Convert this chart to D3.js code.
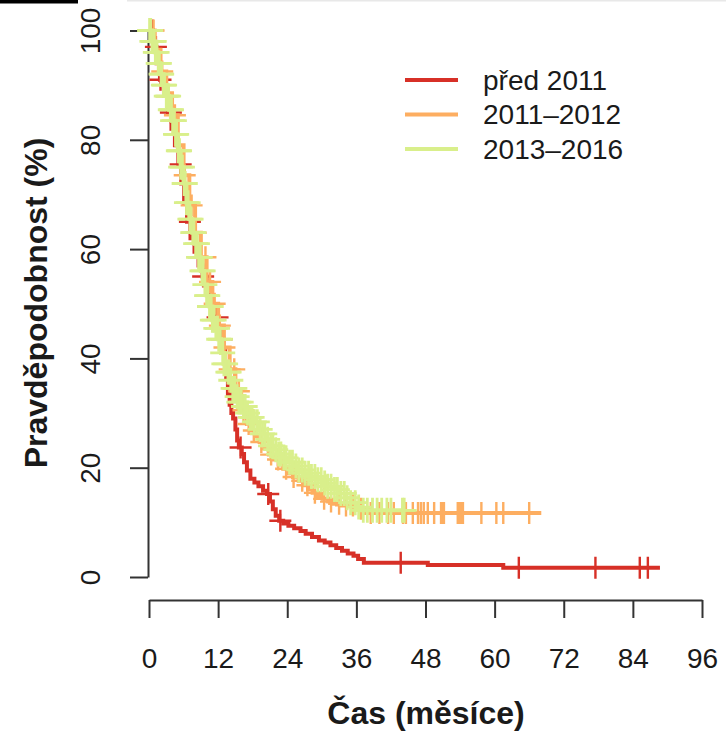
<!DOCTYPE html>
<html>
<head>
<meta charset="utf-8">
<script src="https://cdn.jsdelivr.net/npm/d3@7.9.0/dist/d3.min.js"></script>
<style>
  body { margin: 0; background: #fff; }
  svg { display: block; font-family: "Liberation Sans", Arial, sans-serif; }
</style>
</head>
<body>
<svg id="chart" width="726" height="731"></svg>
<script>
// groups and their colours
const groups = ["před 2011", "2011–2012", "2013–2016"];
const colors = ["#d73027", "#fdae61", "#d9ef8b"];

// Kaplan-Meier steps [months, survival %]
const stepsOld = [
  [0, 100], [0.7, 97], [1.3, 94], [1.9, 91], [2.6, 88], [3.3, 85], [3.9, 82], [4.5, 79],
  [5.1, 75.5], [5.6, 72], [6.1, 68.5], [6.6, 65], [7.2, 62], [7.9, 59.5], [8.6, 57],
  [9.3, 55], [10, 53], [10.6, 51], [11, 49.5], [11.5, 47.5], [12, 45.5], [12.5, 43.5],
  [12.9, 41.5], [13.2, 39], [13.4, 36.5], [13.7, 33.5], [14, 31.5], [14.3, 30],
  [14.6, 29], [15, 27], [15.3, 25], [15.6, 23.7], [16.1, 22.5], [16.5, 21], [17, 19.5],
  [17.6, 18], [18.3, 17.3], [19, 16.6], [19.8, 15.8], [20.5, 15.2], [21, 13.8],
  [21.5, 12.4], [22, 11.2], [22.6, 10.3], [23.3, 9.8], [24.2, 9.4], [25.2, 8.9],
  [26.3, 8.4], [27.2, 7.9], [28.3, 7.3], [29.5, 6.7], [30.5, 6.3], [31.5, 5.8],
  [32.5, 5.3], [33.5, 4.8], [34.5, 4.3], [35.5, 3.9], [36.3, 3.3], [37.3, 2.6],
  [48.4, 2.2], [61.5, 1.7]
];
const endOld = 88.7;

const stepsMid = [
  [0, 100], [1, 96.5], [2, 92.5], [3, 88.5], [4, 84.5], [5, 79], [6, 73.5], [7, 68],
  [8, 63], [9, 58.5], [10, 54], [11, 50], [12, 46], [13, 42], [14, 38], [15, 34],
  [16, 30.5], [17, 28], [17.6, 26.8], [18.4, 25.8], [19.2, 24.7], [20, 23.5],
  [20.8, 22.4], [21.6, 21.5], [22.5, 20.6], [23.3, 19.8], [24.2, 19], [25, 18.3],
  [26, 17.6], [26.8, 16.8], [27.6, 16], [28.4, 15.4], [29.3, 14.8], [30.2, 14.3],
  [31.1, 13.8], [32, 13.4], [33.5, 13.1], [35.9, 12.5], [37.6, 11.7]
];
const endMid = 68.1;

const stepsNew = [
  [0, 100], [0.5, 98], [1, 96], [1.5, 94], [2, 92], [2.5, 90], [3, 88], [3.5, 85.5],
  [4, 83.5], [4.5, 81], [5, 78], [5.5, 75], [6, 72], [6.5, 68.5], [7, 65.5],
  [7.5, 63], [8, 61], [8.5, 58.5], [9, 56], [9.5, 53.5], [10, 51.5], [10.5, 49.5],
  [11, 47], [11.5, 45.5], [12, 43.5], [12.5, 41], [13, 39], [13.5, 37.5], [14, 36],
  [14.5, 34.5], [15, 33], [15.6, 32], [16.3, 31.2], [17, 30], [17.6, 29.2], [18.3, 28.4],
  [19, 27], [19.6, 26.2], [20.3, 25.2], [21, 24], [21.6, 23.3], [22.3, 22.5],
  [23, 21.8], [24, 21], [25, 20.3], [26, 19.6], [27, 19], [28, 18.4], [29, 17.8],
  [30, 17.2], [31, 16.6], [32, 16], [33, 15.3], [34, 14.5], [35, 13.6], [36, 12.8],
  [37, 12.2]
];
const endNew = 44.3;

// censoring times (months)
const censOld = [0.6, 1.2, 2.0, 3.1, 3.8, 5.5, 7.1, 9.4, 11.9, 12.6, 15.9, 20.7, 22.8, 43.7, 64.2, 77.5, 85.2, 86.6];
const censMid = [
  0.8, 2.3, 4.5, 6.2, 7.4, 8.1, 9.0, 9.8, 10.6, 11.4, 12.3, 13.1, 14.0, 14.8, 15.6,
  16.4, 17.3, 18.2, 19.5, 21.2, 22.4, 23.8, 25.1, 26.6, 27.5, 28.8, 30.4, 31.6, 33.0,
  34.2, 35.4, 36.8, 38.5, 40.0, 41.5, 42.5, 44.1, 44.6, 45.8, 46.7, 47.2, 47.7, 48.4,
  49.5, 50.7, 51.0, 51.2, 53.6, 53.8, 54.2, 54.5, 57.7, 60.3, 61.5, 66.0
];
const censNew = [
  0.1, 0.3, 0.5, 0.8, 0.9, 1.1, 1.4, 1.6, 1.8, 2.1, 2.2, 2.5, 2.7, 3.0, 3.2, 3.4, 3.7,
  3.9, 4.1, 4.4, 4.6, 4.8, 5.1, 5.3, 5.5, 5.8, 6.1, 6.3, 6.5, 6.8, 7.1, 7.3, 7.6, 7.8,
  8.1, 8.4, 8.6, 8.9, 9.2, 9.4, 9.7, 10.0, 10.2, 10.5, 10.8, 11.0, 11.3, 11.6, 11.9,
  12.1, 12.4, 12.8, 13.0, 13.3, 13.7, 13.9, 14.2, 14.6, 14.9, 15.3, 15.6, 16.0, 16.4,
  16.7, 17.1, 17.6, 17.9, 18.3, 18.8, 19.3, 19.7, 20.1, 20.6, 21.1, 21.5, 22.0, 22.5,
  22.9, 23.4, 23.8, 24.4, 24.9, 25.5, 26.0, 26.6, 27.1, 27.7, 28.2, 28.8, 29.3, 29.9,
  30.5, 31.0, 31.6, 32.2, 32.7, 33.3, 33.9, 34.4, 35.0, 35.8, 36.4, 37.2, 37.9, 38.8,
  39.6, 40.4, 41.3, 42.0, 44.0, 44.3
];

const xTicks = [0, 12, 24, 36, 48, 60, 72, 84, 96];
const yTicks = [0, 20, 40, 60, 80, 100];

const curves = [
  { steps: stepsOld, end: endOld, cens: censOld, arm: 11, sw: 2.4 },
  { steps: stepsMid, end: endMid, cens: censMid, arm: 11, sw: 2.4 },
  { steps: stepsNew, end: endNew, cens: censNew, arm: 12.5, sw: 2.8 }
];

const svg = d3.select("#chart");

// cropped strip at the very top of the original image
svg.append("rect").attr("x", 0).attr("y", 0).attr("width", 78).attr("height", 3.5).attr("fill", "#000");
svg.append("rect").attr("x", 127).attr("y", 0).attr("width", 599).attr("height", 1.5).attr("fill", "#e8e8e8");

const x = d3.scaleLinear().domain([0, 96]).range([149, 702]);
const y = d3.scaleLinear().domain([0, 100]).range([577, 30.5]);

// x axis (detached, R style)
const gx = svg.append("g")
  .attr("transform", "translate(0,600)")
  .call(d3.axisBottom(x).tickValues(xTicks).tickSize(18).tickSizeOuter(0).tickPadding(30));
gx.select(".domain").attr("stroke", "#333").attr("stroke-width", 2);
gx.selectAll(".tick line").attr("stroke", "#333").attr("stroke-width", 2);
gx.selectAll(".tick text").attr("font-size", 28).attr("fill", "#1a1a1a")
  .attr("font-family", "Liberation Sans, Arial, sans-serif");

// y axis
const gy = svg.append("g")
  .attr("transform", "translate(148,0)")
  .call(d3.axisLeft(y).tickValues(yTicks).tickSize(18).tickSizeOuter(0));
gy.select(".domain").attr("stroke", "#333").attr("stroke-width", 2);
gy.selectAll(".tick line").attr("stroke", "#333").attr("stroke-width", 2);
gy.selectAll(".tick text")
  .attr("x", null).attr("dy", null)
  .attr("transform", "translate(-48,0) rotate(-90)")
  .attr("text-anchor", "middle")
  .attr("font-size", 28).attr("fill", "#1a1a1a")
  .attr("font-family", "Liberation Sans, Arial, sans-serif");

// axis titles
svg.append("text")
  .attr("x", 426).attr("y", 724)
  .attr("text-anchor", "middle")
  .attr("font-size", 32).attr("font-weight", "bold").attr("fill", "#1a1a1a")
  .text("Čas (měsíce)");
svg.append("text")
  .attr("transform", "translate(47,303) rotate(-90)")
  .attr("text-anchor", "middle")
  .attr("font-size", 32).attr("font-weight", "bold").attr("fill", "#1a1a1a")
  .text("Pravděpodobnost (%)");

// survival curves
const line = d3.line()
  .x((d) => x(d[0]))
  .y((d) => y(d[1]))
  .curve(d3.curveStepAfter);
const bis = d3.bisector((d) => d[0]).right;

curves.forEach((c, i) => {
  const pts = c.steps.concat([[c.end, c.steps[c.steps.length - 1][1]]]);
  svg.append("path")
    .attr("d", line(pts))
    .attr("fill", "none")
    .attr("stroke", colors[i])
    .attr("stroke-width", 4);

  // censoring marks "+"
  svg.append("g")
    .selectAll("path")
    .data(c.cens)
    .join("path")
    .attr("d", (t) => {
      const s = c.steps[Math.max(0, bis(c.steps, t) - 1)][1];
      const px = x(t), py = y(s);
      return `M${px - c.arm},${py}h${2 * c.arm}M${px},${py - c.arm}v${2 * c.arm}`;
    })
    .attr("fill", "none")
    .attr("stroke", colors[i])
    .attr("stroke-width", c.sw);
});

// legend
const legend = svg.append("g");
groups.forEach((g, i) => {
  const ly = 80 + i * 34.5;
  legend.append("line")
    .attr("x1", 405).attr("x2", 458)
    .attr("y1", ly).attr("y2", ly)
    .attr("stroke", colors[i]).attr("stroke-width", 4);
  legend.append("text")
    .attr("x", 483).attr("y", ly).attr("dy", "0.35em")
    .attr("font-size", 28).attr("fill", "#1a1a1a")
    .text(g);
});
</script>
</body>
</html>
